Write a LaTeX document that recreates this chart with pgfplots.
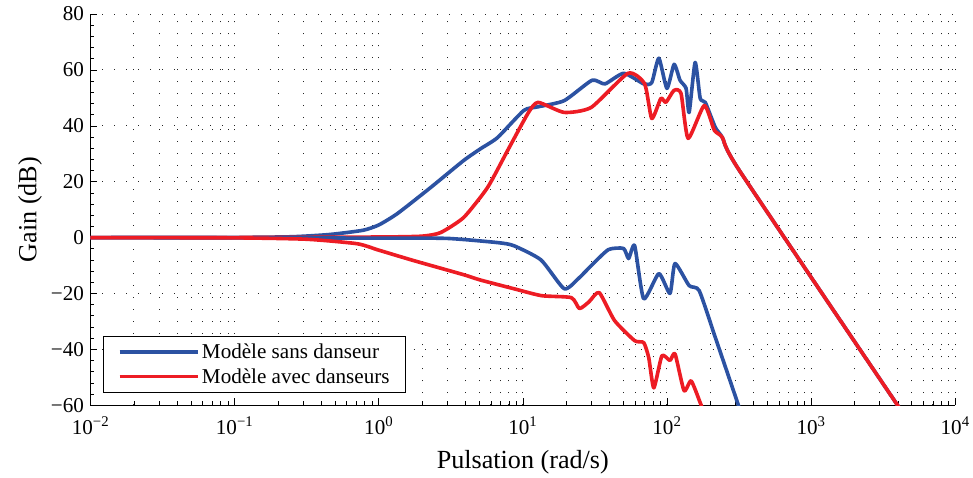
\documentclass[border=0pt]{standalone}
\usepackage{pgfplots}
\pgfplotsset{compat=1.18}
\usepackage{fontspec}
\setmainfont{Liberation Serif}
\definecolor{mblue}{RGB}{44,82,162}
\definecolor{mred}{RGB}{237,28,36}
\begin{document}
\begin{tikzpicture}
\begin{axis}[
    scale only axis,
    width=860pt, height=389pt,
    xmode=log,
    xmin=1e-2, xmax=1e4,
    ymin=-60, ymax=80,
    axis x line=bottom, axis y line=left,
    axis line style={-, line width=0.8pt},
    xtick={1e-2,1e-1,1,1e1,1e2,1e3,1e4},
    xticklabels={10\textsuperscript{−2},10\textsuperscript{−1},10\textsuperscript{0},10\textsuperscript{1},10\textsuperscript{2},10\textsuperscript{3},10\textsuperscript{4}},
    ytick={-60,-40,...,80},
    yticklabels={−60,−40,−20,0,20,40,60,80},
    minor y tick num=4,
    tick align=inside,
    major tick length=7pt, minor tick length=4pt,
    tick style={black, line width=0.6pt},
    xmajorgrids, xminorgrids, ymajorgrids,
    major grid style={black!85, line width=0.9pt, dash pattern=on 0.9pt off 11pt},
    minor grid style={black!85, line width=0.9pt, dash pattern=on 0.9pt off 11pt},
    ticklabel style={font=\fontsize{21}{23}\selectfont},
    xticklabel style={yshift=-8pt},
    yticklabel style={xshift=-3pt},
    xlabel={Pulsation (rad/s)},
    ylabel={Gain (dB)},
    label style={font=\fontsize{26}{28}\selectfont},
    xlabel style={yshift=-9pt},
    ylabel style={yshift=2pt},
    legend style={at={(0.015,0.031)}, anchor=south west, draw=black, line width=0.8pt,
        font=\fontsize{21}{24}\selectfont, row sep=4pt, inner xsep=14pt, inner ysep=6pt},
    legend cell align=left,
    legend image code/.code={\draw[#1, line width=3.6pt] (0pt,0pt) -- (78pt,0pt);},
    every axis plot/.append style={line width=3.6pt, line join=round, smooth, tension=0.35},
]
\addplot[mblue] coordinates {(0.01,0)(0.1,0.05)(0.2512,0.3)(0.4571,1.1)(0.7762,2.6)(1.0,4.5)(1.349,8.6)(2.291,17.9)(3.890,27.6)(5.129,31.9)(6.683,35.8)(10.16,45.5)(12.74,46.8)(19.36,49)(30.20,56.3)(37.15,55)(50.12,58.8)(69.18,55)(78.52,55.5)(87.90,64.2)(100,53.4)(112.2,62)(123.3,56.3)(135.8,53.4)(142.6,44.8)(157.0,62.7)(170.2,49.8)(184.5,48.4)(216.8,39.4)(242.7,35.8)(318.4,24)(4169,-61.5)};
\addlegendentry{Modèle sans danseur}
\addplot[mred] coordinates {(0.01,0)(0.1,0)(1,0.2)(1.995,0.5)(2.692,1.8)(3.890,7.2)(5.689,17.9)(7.852,31.2)(10.84,44.4)(12.74,48.4)(19.36,44.8)(29.85,46.6)(53.70,58.8)(70.1,55)(78.5,42.6)(90.78,49.8)(98.4,48.4)(112.0,52.7)(125.3,51.6)(140.3,35.5)(181.6,47.3)(213.3,38.4)(242.7,35.8)(318.4,24)(4169,-61.5)};
\addlegendentry{Modèle avec danseurs}
\addplot[mblue, forget plot] coordinates {(0.01,0)(1,-0.2)(2.985,-0.3)(6.683,-1.8)(8.65,-2.9)(13.37,-8)(19.36,-18.3)(24.27,-14.7)(29.9,-10)(39.3,-4.3)(50.0,-3.9)(54.2,-7.5)(59.7,-2.9)(69.0,-21.9)(87.9,-12.9)(105,-20)(113.8,-9.3)(142.6,-17.2)(167.5,-19)(216.8,-35.8)(309,-59.1)(325,-63)};
\addplot[mred, forget plot] coordinates {(0.01,0)(0.1,-0.1)(0.3162,-0.6)(0.7079,-2.2)(1,-4.5)(1.738,-8.2)(3.890,-13.3)(5.08,-15.2)(8.65,-18.3)(13.5,-20.8)(21.7,-21.5)(24.7,-25.4)(28.8,-23)(33.9,-19.7)(43.3,-29.7)(59.7,-36.9)(69.0,-37.6)(74.8,-43)(81.1,-53.8)(92.3,-42.3)(105,-44)(113.8,-41.6)(131.5,-54.8)(147.2,-51.3)(170.2,-59.1)(182,-63)};
\end{axis}
\path (current axis.south west) ++(-90pt,0pt);
\path (current axis.north west) ++(0pt,14pt);
\end{tikzpicture}
\end{document}
